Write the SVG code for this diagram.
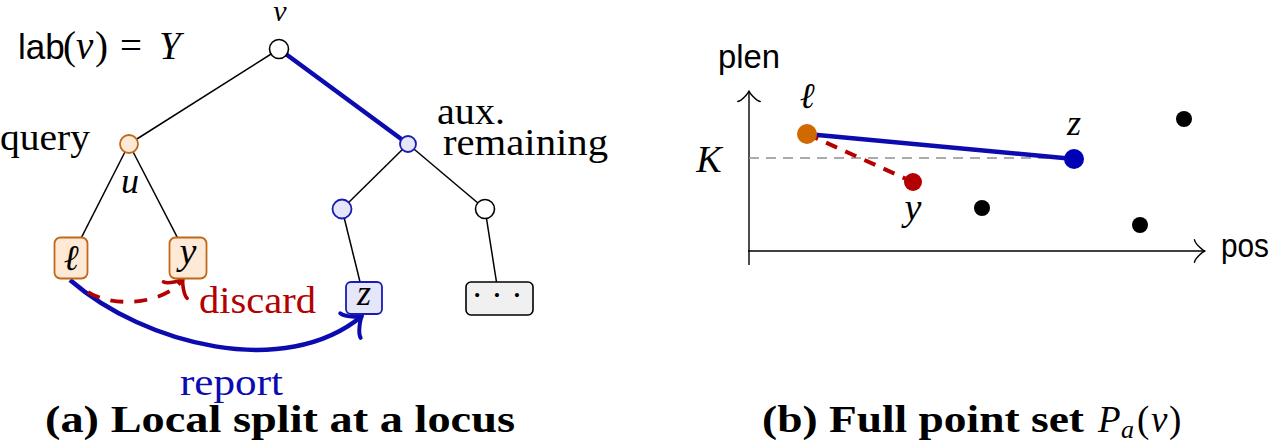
<svg xmlns="http://www.w3.org/2000/svg" width="1274" height="442" viewBox="0 0 1274 442">
<style>
.rm{font-family:"Liberation Serif","DejaVu Serif",serif;}
.it{font-family:"Liberation Serif","DejaVu Serif",serif;font-style:italic;}
.sf{font-family:"Liberation Sans","DejaVu Sans",sans-serif;}
.bf{font-family:"Liberation Serif","DejaVu Serif",serif;font-weight:bold;}
.edge{stroke:#000;stroke-width:1.5;fill:none;}
.wnode{fill:#fff;stroke:#000;stroke-width:1.6;}
.onode{fill:#fde9d6;stroke:#c06a18;stroke-width:1.8;}
.bnode{fill:#e6e6fa;stroke:#1a1ab4;stroke-width:1.8;}
.blue{fill:#0b0bb0;}
.red{fill:#b40000;}
</style>
<defs>
<marker id="toBlue" markerUnits="userSpaceOnUse" viewBox="-20 -20 30 40" markerWidth="30" markerHeight="40" refX="3" refY="0" orient="auto" overflow="visible">
<path d="M-12,16 C-11,10 0,1 3,0 C0,-1 -11,-10 -12,-16" fill="none" stroke="#0b0bb0" stroke-width="4" stroke-linecap="round" stroke-linejoin="round"/>
</marker>
<marker id="toRed" markerUnits="userSpaceOnUse" viewBox="-20 -20 30 40" markerWidth="30" markerHeight="40" refX="2.7" refY="0" orient="auto" overflow="visible">
<path d="M-10.8,14.4 C-9.9,9 0,0.9 2.7,0 C0,-0.9 -9.9,-9 -10.8,-14.4" fill="none" stroke="#b40000" stroke-width="3.6" stroke-linecap="round" stroke-linejoin="round"/>
</marker>
<marker id="toAxis" markerUnits="userSpaceOnUse" viewBox="-12 -14 16 28" markerWidth="16" markerHeight="28" refX="2.1" refY="0" orient="auto" overflow="visible">
<path d="M-8.4,11.2 C-7.7,7 0,0.7 2.1,0 C0,-0.7 -7.7,-7 -8.4,-11.2" fill="none" stroke="#000" stroke-width="1.4" stroke-linecap="round" stroke-linejoin="round"/>
</marker>
</defs>
<rect width="1274" height="442" fill="#fff"/>

<!-- Panel (a) connectors -->
<g id="connectors-a">
<line class="edge" x1="279" y1="49" x2="129" y2="144"/>
<line x1="279" y1="49" x2="408" y2="144" stroke="#0b0bb0" stroke-width="4.5"/>
<line class="edge" x1="129" y1="144" x2="71" y2="258"/>
<line class="edge" x1="129" y1="144" x2="188" y2="258"/>
<line class="edge" x1="408" y1="144" x2="342" y2="209"/>
<line class="edge" x1="408" y1="144" x2="485" y2="209"/>
<line class="edge" x1="342" y1="209" x2="364" y2="298"/>
<line class="edge" x1="485" y1="209" x2="499" y2="298"/>
<path d="M70,280 C145,345 285,380 362,316" fill="none" stroke="#0b0bb0" stroke-width="4.5" marker-end="url(#toBlue)"/>
<path d="M88,292 C112,308 165,305 183,279" fill="none" stroke="#b40000" stroke-width="3.8" stroke-dasharray="13 11" marker-end="url(#toRed)"/>
</g>

<!-- Panel (a) nodes -->
<g id="node-v"><circle class="wnode" cx="279" cy="49" r="9.5"/><text class="it" x="280" y="21" font-size="30" text-anchor="middle">v</text></g>
<g id="node-u"><circle class="onode" cx="129" cy="144" r="9"/><text class="it" x="130" y="193" font-size="36" text-anchor="middle">u</text></g>
<g id="node-aux"><circle class="bnode" cx="408" cy="144" r="8"/></g>
<g id="node-bl"><circle class="bnode" cx="342" cy="209" r="9.5"/></g>
<g id="node-br"><circle class="wnode" cx="485" cy="209" r="9.5"/></g>
<g id="node-l"><rect class="onode" x="54.5" y="237.5" width="33" height="41" rx="6"/><text class="it" x="71" y="270" font-size="36" text-anchor="middle">ℓ</text></g>
<g id="node-y"><rect class="onode" x="169.5" y="237.5" width="37" height="41" rx="6"/><text class="it" x="188" y="264" font-size="38" text-anchor="middle">y</text></g>
<g id="node-z"><rect class="bnode" x="346" y="282" width="36" height="32" rx="5" stroke-width="2"/><text class="it" x="364" y="305" font-size="36" text-anchor="middle">z</text></g>
<g id="node-dots"><rect x="466" y="282" width="67" height="33" rx="5" fill="#f0f0f0" stroke="#000" stroke-width="1.6"/><text class="rm" x="497" y="306" font-size="34" text-anchor="middle">· · ·</text></g>

<!-- Panel (a) labels -->
<g id="labels-a">
<text y="59" font-size="39"><tspan class="sf" x="18" font-size="35">lab</tspan><tspan class="rm" x="63">(</tspan><tspan class="it" x="76">v</tspan><tspan class="rm" x="95">)</tspan><tspan class="rm" x="120">=</tspan><tspan class="it" x="159">Y</tspan></text>
<text class="rm" x="0" y="150" font-size="38" textLength="90" lengthAdjust="spacingAndGlyphs">query</text>
<text class="rm" x="437" y="124" font-size="37" textLength="68" lengthAdjust="spacingAndGlyphs">aux.</text>
<text class="rm" x="443" y="155" font-size="38" textLength="165" lengthAdjust="spacingAndGlyphs">remaining</text>
<text class="rm red" x="199" y="313" font-size="38" textLength="117" lengthAdjust="spacingAndGlyphs">discard</text>
<text class="rm blue" x="180" y="395" font-size="38" textLength="103" lengthAdjust="spacingAndGlyphs">report</text>
<text class="bf" x="45" y="432" font-size="37" textLength="470" lengthAdjust="spacingAndGlyphs">(a) Local split at a locus</text>
</g>

<!-- Panel (b) -->
<g id="axes">
<line x1="749" y1="265" x2="749" y2="91" stroke="#000" stroke-width="1.4" marker-end="url(#toAxis)"/>
<line x1="748" y1="251" x2="1205" y2="251" stroke="#000" stroke-width="1.4" marker-end="url(#toAxis)"/>
<text class="sf" x="718" y="68" font-size="34" textLength="62" lengthAdjust="spacingAndGlyphs">plen</text>
<text class="sf" x="1221" y="257" font-size="33" textLength="48" lengthAdjust="spacingAndGlyphs">pos</text>
<line x1="749" y1="158" x2="1074" y2="158" stroke="#909090" stroke-width="1.6" stroke-dasharray="10 7"/>
<text class="it" x="709" y="172" font-size="38" text-anchor="middle">K</text>
</g>
<g id="connectors-b">
<line x1="807" y1="134" x2="1074" y2="159" stroke="#0b0bb0" stroke-width="4.5"/>
<line x1="807" y1="134" x2="913" y2="182" stroke="#b40000" stroke-width="4" stroke-dasharray="12 9"/>
</g>
<g id="pt-l"><circle cx="807" cy="134" r="10" fill="#d06a00"/><text class="it" x="807" y="108" font-size="36" text-anchor="middle">ℓ</text></g>
<g id="pt-y"><circle cx="913" cy="182" r="9" fill="#b40000"/><text class="it" x="913" y="220" font-size="38" text-anchor="middle">y</text></g>
<g id="pt-z"><circle cx="1074" cy="159" r="10" fill="#0000b4"/><text class="it" x="1074" y="135" font-size="36" text-anchor="middle">z</text></g>
<g id="pt-others">
<circle cx="982" cy="208" r="8" fill="#000"/>
<circle cx="1140" cy="225" r="8" fill="#000"/>
<circle cx="1184" cy="119" r="8" fill="#000"/>
</g>
<g id="caption-b">
<text class="bf" x="762" y="432" font-size="37" textLength="322" lengthAdjust="spacingAndGlyphs">(b) Full point set</text>
<text y="432" font-size="37"><tspan class="it" x="1098">P</tspan><tspan class="it" x="1121" y="438" font-size="26">a</tspan><tspan class="rm" x="1137" y="432">(</tspan><tspan class="it" x="1151">v</tspan><tspan class="rm" x="1169">)</tspan></text>
</g>
</svg>
